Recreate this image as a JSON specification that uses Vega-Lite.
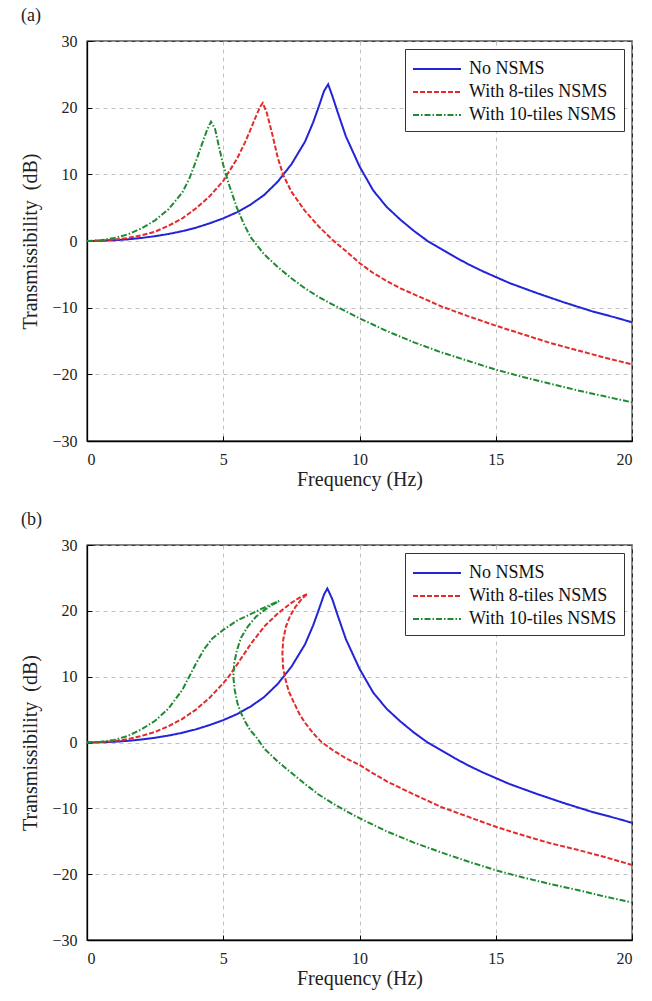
{
  "$schema": "https://vega.github.io/schema/vega-lite/v6.json",
  "background": "white",
  "padding": {"left": 20, "top": 6, "right": 5, "bottom": 4},
  "spacing": 20,
  "config": {
    "font": "Liberation Serif",
    "view": {"stroke": "black", "strokeWidth": 1.3},
    "axis": {
      "labelFont": "Liberation Serif", "titleFont": "Liberation Serif",
      "labelFontSize": 16, "titleFontSize": 20, "titleFontWeight": "normal",
      "labelColor": "#222222", "titleColor": "#222222",
      "domainColor": "black", "domainWidth": 1.3, "tickColor": "black", "tickSize": -5, "labelPadding": 15,
      "gridColor": "#b0b0b0", "gridDash": [4, 4], "gridWidth": 0.8
    },
    "legend": {
      "orient": "top-right", "offset": 8, "strokeColor": "#333333", "fillColor": "white",
      "padding": 7, "labelFont": "Liberation Serif", "labelFontSize": 18, "labelColor": "#111111",
      "symbolType": "M-2,0H2", "symbolStrokeWidth": 2, "symbolSize": 576, "symbolOffset": 12, "rowPadding": 1, "labelOffset": 19
    },
    "title": {"font": "Liberation Serif", "fontSize": 18, "fontWeight": "normal", "anchor": "start", "frame": "bounds", "offset": 8, "color": "#222222"}
  },
  "datasets": {
    "a": [
      {"s":"No NSMS","i":0,"f":0,"db":0},{"s":"No NSMS","i":1,"f":0.5,"db":0.03},{"s":"No NSMS","i":2,"f":1,"db":0.11},{"s":"No NSMS","i":3,"f":1.5,"db":0.25},{"s":"No NSMS","i":4,"f":2,"db":0.46},{"s":"No NSMS","i":5,"f":2.5,"db":0.72},{"s":"No NSMS","i":6,"f":3,"db":1.06},{"s":"No NSMS","i":7,"f":3.5,"db":1.48},{"s":"No NSMS","i":8,"f":4,"db":2.0},{"s":"No NSMS","i":9,"f":4.5,"db":2.65},{"s":"No NSMS","i":10,"f":5,"db":3.4},{"s":"No NSMS","i":11,"f":5.5,"db":4.3},{"s":"No NSMS","i":12,"f":6,"db":5.45},{"s":"No NSMS","i":13,"f":6.5,"db":6.9},{"s":"No NSMS","i":14,"f":7,"db":8.9},{"s":"No NSMS","i":15,"f":7.5,"db":11.5},{"s":"No NSMS","i":16,"f":8,"db":14.9},{"s":"No NSMS","i":17,"f":8.3,"db":17.8},{"s":"No NSMS","i":18,"f":8.5,"db":20.1},{"s":"No NSMS","i":19,"f":8.7,"db":22.5},{"s":"No NSMS","i":20,"f":8.85,"db":23.5},{"s":"No NSMS","i":21,"f":9,"db":21.8},{"s":"No NSMS","i":22,"f":9.2,"db":19.3},{"s":"No NSMS","i":23,"f":9.5,"db":15.7},{"s":"No NSMS","i":24,"f":10,"db":11.2},{"s":"No NSMS","i":25,"f":10.5,"db":7.6},{"s":"No NSMS","i":26,"f":11,"db":5.1},{"s":"No NSMS","i":27,"f":11.5,"db":3.2},{"s":"No NSMS","i":28,"f":12,"db":1.5},{"s":"No NSMS","i":29,"f":12.5,"db":0.0},{"s":"No NSMS","i":30,"f":13,"db":-1.2},{"s":"No NSMS","i":31,"f":13.5,"db":-2.4},{"s":"No NSMS","i":32,"f":14,"db":-3.5},{"s":"No NSMS","i":33,"f":14.5,"db":-4.5},{"s":"No NSMS","i":34,"f":15,"db":-5.4},{"s":"No NSMS","i":35,"f":15.5,"db":-6.3},{"s":"No NSMS","i":36,"f":16,"db":-7.05},{"s":"No NSMS","i":37,"f":16.5,"db":-7.8},{"s":"No NSMS","i":38,"f":17,"db":-8.5},{"s":"No NSMS","i":39,"f":17.5,"db":-9.2},{"s":"No NSMS","i":40,"f":18,"db":-9.85},{"s":"No NSMS","i":41,"f":18.5,"db":-10.5},{"s":"No NSMS","i":42,"f":19,"db":-11.05},{"s":"No NSMS","i":43,"f":19.5,"db":-11.6},{"s":"No NSMS","i":44,"f":20,"db":-12.2},
      {"s":"With 8-tiles NSMS","i":0,"f":0,"db":0},{"s":"With 8-tiles NSMS","i":1,"f":0.5,"db":0.05},{"s":"With 8-tiles NSMS","i":2,"f":1,"db":0.2},{"s":"With 8-tiles NSMS","i":3,"f":1.5,"db":0.45},{"s":"With 8-tiles NSMS","i":4,"f":2,"db":0.85},{"s":"With 8-tiles NSMS","i":5,"f":2.5,"db":1.4},{"s":"With 8-tiles NSMS","i":6,"f":3,"db":2.3},{"s":"With 8-tiles NSMS","i":7,"f":3.5,"db":3.4},{"s":"With 8-tiles NSMS","i":8,"f":4,"db":4.9},{"s":"With 8-tiles NSMS","i":9,"f":4.5,"db":6.7},{"s":"With 8-tiles NSMS","i":10,"f":5,"db":9.0},{"s":"With 8-tiles NSMS","i":11,"f":5.5,"db":12.3},{"s":"With 8-tiles NSMS","i":12,"f":5.8,"db":14.8},{"s":"With 8-tiles NSMS","i":13,"f":6.0,"db":16.7},{"s":"With 8-tiles NSMS","i":14,"f":6.2,"db":18.7},{"s":"With 8-tiles NSMS","i":15,"f":6.35,"db":20.1},{"s":"With 8-tiles NSMS","i":16,"f":6.45,"db":20.7},{"s":"With 8-tiles NSMS","i":17,"f":6.6,"db":19.2},{"s":"With 8-tiles NSMS","i":18,"f":6.8,"db":16.0},{"s":"With 8-tiles NSMS","i":19,"f":7.0,"db":12.5},{"s":"With 8-tiles NSMS","i":20,"f":7.2,"db":9.9},{"s":"With 8-tiles NSMS","i":21,"f":7.5,"db":7.4},{"s":"With 8-tiles NSMS","i":22,"f":8,"db":4.5},{"s":"With 8-tiles NSMS","i":23,"f":8.5,"db":2.2},{"s":"With 8-tiles NSMS","i":24,"f":9,"db":0.2},{"s":"With 8-tiles NSMS","i":25,"f":9.5,"db":-1.5},{"s":"With 8-tiles NSMS","i":26,"f":10,"db":-3.3},{"s":"With 8-tiles NSMS","i":27,"f":10.5,"db":-4.8},{"s":"With 8-tiles NSMS","i":28,"f":11,"db":-6.0},{"s":"With 8-tiles NSMS","i":29,"f":11.5,"db":-7.1},{"s":"With 8-tiles NSMS","i":30,"f":12,"db":-8.0},{"s":"With 8-tiles NSMS","i":31,"f":13,"db":-9.8},{"s":"With 8-tiles NSMS","i":32,"f":14,"db":-11.3},{"s":"With 8-tiles NSMS","i":33,"f":15,"db":-12.7},{"s":"With 8-tiles NSMS","i":34,"f":16,"db":-14.0},{"s":"With 8-tiles NSMS","i":35,"f":17,"db":-15.3},{"s":"With 8-tiles NSMS","i":36,"f":18,"db":-16.4},{"s":"With 8-tiles NSMS","i":37,"f":19,"db":-17.5},{"s":"With 8-tiles NSMS","i":38,"f":20,"db":-18.5},
      {"s":"With 10-tiles NSMS","i":0,"f":0,"db":0},{"s":"With 10-tiles NSMS","i":1,"f":0.5,"db":0.1},{"s":"With 10-tiles NSMS","i":2,"f":1,"db":0.45},{"s":"With 10-tiles NSMS","i":3,"f":1.5,"db":1.0},{"s":"With 10-tiles NSMS","i":4,"f":2,"db":1.9},{"s":"With 10-tiles NSMS","i":5,"f":2.5,"db":3.1},{"s":"With 10-tiles NSMS","i":6,"f":3,"db":4.8},{"s":"With 10-tiles NSMS","i":7,"f":3.5,"db":7.3},{"s":"With 10-tiles NSMS","i":8,"f":3.75,"db":9.3},{"s":"With 10-tiles NSMS","i":9,"f":4.0,"db":12.0},{"s":"With 10-tiles NSMS","i":10,"f":4.2,"db":14.3},{"s":"With 10-tiles NSMS","i":11,"f":4.4,"db":16.6},{"s":"With 10-tiles NSMS","i":12,"f":4.55,"db":17.9},{"s":"With 10-tiles NSMS","i":13,"f":4.7,"db":16.8},{"s":"With 10-tiles NSMS","i":14,"f":4.85,"db":14.0},{"s":"With 10-tiles NSMS","i":15,"f":5.0,"db":11.4},{"s":"With 10-tiles NSMS","i":16,"f":5.2,"db":8.6},{"s":"With 10-tiles NSMS","i":17,"f":5.5,"db":5.0},{"s":"With 10-tiles NSMS","i":18,"f":5.75,"db":2.6},{"s":"With 10-tiles NSMS","i":19,"f":6,"db":0.6},{"s":"With 10-tiles NSMS","i":20,"f":6.5,"db":-2.0},{"s":"With 10-tiles NSMS","i":21,"f":7,"db":-3.9},{"s":"With 10-tiles NSMS","i":22,"f":7.5,"db":-5.6},{"s":"With 10-tiles NSMS","i":23,"f":8,"db":-7.1},{"s":"With 10-tiles NSMS","i":24,"f":8.5,"db":-8.4},{"s":"With 10-tiles NSMS","i":25,"f":9,"db":-9.5},{"s":"With 10-tiles NSMS","i":26,"f":10,"db":-11.6},{"s":"With 10-tiles NSMS","i":27,"f":11,"db":-13.5},{"s":"With 10-tiles NSMS","i":28,"f":12,"db":-15.2},{"s":"With 10-tiles NSMS","i":29,"f":13,"db":-16.7},{"s":"With 10-tiles NSMS","i":30,"f":14,"db":-18.0},{"s":"With 10-tiles NSMS","i":31,"f":15,"db":-19.3},{"s":"With 10-tiles NSMS","i":32,"f":16,"db":-20.4},{"s":"With 10-tiles NSMS","i":33,"f":17,"db":-21.4},{"s":"With 10-tiles NSMS","i":34,"f":18,"db":-22.4},{"s":"With 10-tiles NSMS","i":35,"f":19,"db":-23.3},{"s":"With 10-tiles NSMS","i":36,"f":20,"db":-24.2}
    ],
    "b": [
      {"s":"No NSMS","i":0,"f":0,"db":0},{"s":"No NSMS","i":1,"f":0.5,"db":0.03},{"s":"No NSMS","i":2,"f":1,"db":0.11},{"s":"No NSMS","i":3,"f":1.5,"db":0.25},{"s":"No NSMS","i":4,"f":2,"db":0.46},{"s":"No NSMS","i":5,"f":2.5,"db":0.72},{"s":"No NSMS","i":6,"f":3,"db":1.06},{"s":"No NSMS","i":7,"f":3.5,"db":1.48},{"s":"No NSMS","i":8,"f":4,"db":2.0},{"s":"No NSMS","i":9,"f":4.5,"db":2.65},{"s":"No NSMS","i":10,"f":5,"db":3.4},{"s":"No NSMS","i":11,"f":5.5,"db":4.3},{"s":"No NSMS","i":12,"f":6,"db":5.45},{"s":"No NSMS","i":13,"f":6.5,"db":6.9},{"s":"No NSMS","i":14,"f":7,"db":8.9},{"s":"No NSMS","i":15,"f":7.5,"db":11.5},{"s":"No NSMS","i":16,"f":8,"db":14.9},{"s":"No NSMS","i":17,"f":8.3,"db":17.8},{"s":"No NSMS","i":18,"f":8.5,"db":20.1},{"s":"No NSMS","i":19,"f":8.7,"db":22.5},{"s":"No NSMS","i":20,"f":8.82,"db":23.4},{"s":"No NSMS","i":21,"f":9,"db":21.8},{"s":"No NSMS","i":22,"f":9.2,"db":19.3},{"s":"No NSMS","i":23,"f":9.5,"db":15.7},{"s":"No NSMS","i":24,"f":10,"db":11.2},{"s":"No NSMS","i":25,"f":10.5,"db":7.6},{"s":"No NSMS","i":26,"f":11,"db":5.1},{"s":"No NSMS","i":27,"f":11.5,"db":3.2},{"s":"No NSMS","i":28,"f":12,"db":1.5},{"s":"No NSMS","i":29,"f":12.5,"db":0.0},{"s":"No NSMS","i":30,"f":13,"db":-1.2},{"s":"No NSMS","i":31,"f":13.5,"db":-2.4},{"s":"No NSMS","i":32,"f":14,"db":-3.5},{"s":"No NSMS","i":33,"f":14.5,"db":-4.5},{"s":"No NSMS","i":34,"f":15,"db":-5.4},{"s":"No NSMS","i":35,"f":15.5,"db":-6.3},{"s":"No NSMS","i":36,"f":16,"db":-7.05},{"s":"No NSMS","i":37,"f":16.5,"db":-7.8},{"s":"No NSMS","i":38,"f":17,"db":-8.5},{"s":"No NSMS","i":39,"f":17.5,"db":-9.2},{"s":"No NSMS","i":40,"f":18,"db":-9.85},{"s":"No NSMS","i":41,"f":18.5,"db":-10.5},{"s":"No NSMS","i":42,"f":19,"db":-11.05},{"s":"No NSMS","i":43,"f":19.5,"db":-11.6},{"s":"No NSMS","i":44,"f":20,"db":-12.2},
      {"s":"With 8-tiles NSMS","i":0,"f":0,"db":0},{"s":"With 8-tiles NSMS","i":1,"f":0.5,"db":0.05},{"s":"With 8-tiles NSMS","i":2,"f":1,"db":0.2},{"s":"With 8-tiles NSMS","i":3,"f":1.5,"db":0.5},{"s":"With 8-tiles NSMS","i":4,"f":2,"db":1.0},{"s":"With 8-tiles NSMS","i":5,"f":2.5,"db":1.6},{"s":"With 8-tiles NSMS","i":6,"f":3,"db":2.5},{"s":"With 8-tiles NSMS","i":7,"f":3.5,"db":3.6},{"s":"With 8-tiles NSMS","i":8,"f":4,"db":5.0},{"s":"With 8-tiles NSMS","i":9,"f":4.5,"db":6.8},{"s":"With 8-tiles NSMS","i":10,"f":5,"db":9.0},{"s":"With 8-tiles NSMS","i":11,"f":5.2,"db":10.0},{"s":"With 8-tiles NSMS","i":12,"f":5.5,"db":11.8},{"s":"With 8-tiles NSMS","i":13,"f":6,"db":14.9},{"s":"With 8-tiles NSMS","i":14,"f":6.5,"db":17.6},{"s":"With 8-tiles NSMS","i":15,"f":7,"db":19.6},{"s":"With 8-tiles NSMS","i":16,"f":7.5,"db":21.2},{"s":"With 8-tiles NSMS","i":17,"f":7.8,"db":22.0},{"s":"With 8-tiles NSMS","i":18,"f":8.1,"db":22.6},{"s":"With 8-tiles NSMS","i":19,"f":7.9,"db":21.9},{"s":"With 8-tiles NSMS","i":20,"f":7.65,"db":20.6},{"s":"With 8-tiles NSMS","i":21,"f":7.45,"db":19.2},{"s":"With 8-tiles NSMS","i":22,"f":7.3,"db":17.6},{"s":"With 8-tiles NSMS","i":23,"f":7.2,"db":15.6},{"s":"With 8-tiles NSMS","i":24,"f":7.17,"db":13.5},{"s":"With 8-tiles NSMS","i":25,"f":7.2,"db":11.3},{"s":"With 8-tiles NSMS","i":26,"f":7.27,"db":9.8},{"s":"With 8-tiles NSMS","i":27,"f":7.4,"db":7.8},{"s":"With 8-tiles NSMS","i":28,"f":7.6,"db":6.0},{"s":"With 8-tiles NSMS","i":29,"f":7.8,"db":4.3},{"s":"With 8-tiles NSMS","i":30,"f":8.0,"db":3.0},{"s":"With 8-tiles NSMS","i":31,"f":8.3,"db":1.4},{"s":"With 8-tiles NSMS","i":32,"f":8.6,"db":0.1},{"s":"With 8-tiles NSMS","i":33,"f":9,"db":-1.1},{"s":"With 8-tiles NSMS","i":34,"f":9.5,"db":-2.4},{"s":"With 8-tiles NSMS","i":35,"f":10,"db":-3.4},{"s":"With 8-tiles NSMS","i":36,"f":10.5,"db":-4.7},{"s":"With 8-tiles NSMS","i":37,"f":11,"db":-5.9},{"s":"With 8-tiles NSMS","i":38,"f":11.5,"db":-6.9},{"s":"With 8-tiles NSMS","i":39,"f":12,"db":-7.9},{"s":"With 8-tiles NSMS","i":40,"f":13,"db":-9.8},{"s":"With 8-tiles NSMS","i":41,"f":14,"db":-11.3},{"s":"With 8-tiles NSMS","i":42,"f":15,"db":-12.8},{"s":"With 8-tiles NSMS","i":43,"f":16,"db":-14.1},{"s":"With 8-tiles NSMS","i":44,"f":17,"db":-15.3},{"s":"With 8-tiles NSMS","i":45,"f":18,"db":-16.3},{"s":"With 8-tiles NSMS","i":46,"f":19,"db":-17.4},{"s":"With 8-tiles NSMS","i":47,"f":20,"db":-18.6},
      {"s":"With 10-tiles NSMS","i":0,"f":0,"db":0},{"s":"With 10-tiles NSMS","i":1,"f":0.5,"db":0.1},{"s":"With 10-tiles NSMS","i":2,"f":1,"db":0.4},{"s":"With 10-tiles NSMS","i":3,"f":1.5,"db":1.0},{"s":"With 10-tiles NSMS","i":4,"f":2,"db":2.0},{"s":"With 10-tiles NSMS","i":5,"f":2.5,"db":3.3},{"s":"With 10-tiles NSMS","i":6,"f":3,"db":5.2},{"s":"With 10-tiles NSMS","i":7,"f":3.5,"db":8.0},{"s":"With 10-tiles NSMS","i":8,"f":3.75,"db":10.0},{"s":"With 10-tiles NSMS","i":9,"f":4,"db":12.0},{"s":"With 10-tiles NSMS","i":10,"f":4.3,"db":14.2},{"s":"With 10-tiles NSMS","i":11,"f":4.6,"db":15.8},{"s":"With 10-tiles NSMS","i":12,"f":5,"db":17.1},{"s":"With 10-tiles NSMS","i":13,"f":5.5,"db":18.5},{"s":"With 10-tiles NSMS","i":14,"f":6,"db":19.5},{"s":"With 10-tiles NSMS","i":15,"f":6.5,"db":20.5},{"s":"With 10-tiles NSMS","i":16,"f":7.05,"db":21.5},{"s":"With 10-tiles NSMS","i":17,"f":6.8,"db":20.9},{"s":"With 10-tiles NSMS","i":18,"f":6.5,"db":20.1},{"s":"With 10-tiles NSMS","i":19,"f":6.2,"db":19.1},{"s":"With 10-tiles NSMS","i":20,"f":5.9,"db":17.6},{"s":"With 10-tiles NSMS","i":21,"f":5.65,"db":15.9},{"s":"With 10-tiles NSMS","i":22,"f":5.5,"db":14.0},{"s":"With 10-tiles NSMS","i":23,"f":5.4,"db":12.0},{"s":"With 10-tiles NSMS","i":24,"f":5.37,"db":10.0},{"s":"With 10-tiles NSMS","i":25,"f":5.42,"db":8.0},{"s":"With 10-tiles NSMS","i":26,"f":5.52,"db":6.0},{"s":"With 10-tiles NSMS","i":27,"f":5.65,"db":4.5},{"s":"With 10-tiles NSMS","i":28,"f":5.8,"db":3.2},{"s":"With 10-tiles NSMS","i":29,"f":6,"db":1.8},{"s":"With 10-tiles NSMS","i":30,"f":6.2,"db":0.9},{"s":"With 10-tiles NSMS","i":31,"f":6.5,"db":-0.9},{"s":"With 10-tiles NSMS","i":32,"f":7,"db":-2.9},{"s":"With 10-tiles NSMS","i":33,"f":7.5,"db":-4.6},{"s":"With 10-tiles NSMS","i":34,"f":8,"db":-6.3},{"s":"With 10-tiles NSMS","i":35,"f":8.5,"db":-7.9},{"s":"With 10-tiles NSMS","i":36,"f":9,"db":-9.2},{"s":"With 10-tiles NSMS","i":37,"f":9.5,"db":-10.4},{"s":"With 10-tiles NSMS","i":38,"f":10,"db":-11.5},{"s":"With 10-tiles NSMS","i":39,"f":11,"db":-13.5},{"s":"With 10-tiles NSMS","i":40,"f":12,"db":-15.2},{"s":"With 10-tiles NSMS","i":41,"f":13,"db":-16.7},{"s":"With 10-tiles NSMS","i":42,"f":14,"db":-18.1},{"s":"With 10-tiles NSMS","i":43,"f":15,"db":-19.4},{"s":"With 10-tiles NSMS","i":44,"f":16,"db":-20.5},{"s":"With 10-tiles NSMS","i":45,"f":17,"db":-21.5},{"s":"With 10-tiles NSMS","i":46,"f":18,"db":-22.4},{"s":"With 10-tiles NSMS","i":47,"f":19,"db":-23.4},{"s":"With 10-tiles NSMS","i":48,"f":20,"db":-24.3}
    ]
  },
  "resolve": {"scale": {"color": "independent", "strokeDash": "independent"}},
  "vconcat": [
    {
      "title": {"text": "(a)"},
      "width": 545, "height": 400,
      "data": {"name": "a"},
      "mark": {"type": "line", "strokeWidth": 2},
      "encoding": {
        "x": {"field": "f", "type": "quantitative", "scale": {"domain": [0, 20], "nice": false}, "axis": {"values": [0, 5, 10, 15, 20], "title": "Frequency (Hz)", "titlePadding": 2}},
        "y": {"field": "db", "type": "quantitative", "scale": {"domain": [-30, 30], "nice": false}, "axis": {"values": [-30, -20, -10, 0, 10, 20, 30], "title": "Transmissibility\u00a0 (dB)", "titlePadding": 11}},
        "color": {"field": "s", "type": "nominal", "scale": {"domain": ["No NSMS", "With 8-tiles NSMS", "With 10-tiles NSMS"], "range": ["#2323d8", "#e42a2a", "#1f8a30"]}, "legend": {"title": null}},
        "strokeDash": {"field": "s", "type": "nominal", "scale": {"domain": ["No NSMS", "With 8-tiles NSMS", "With 10-tiles NSMS"], "range": [[1, 0], [5, 2], [6, 2, 1.5, 2]]}, "legend": {"title": null}},
        "order": {"field": "i", "type": "quantitative"}
      }
    },
    {
      "title": {"text": "(b)"},
      "width": 545, "height": 395,
      "data": {"name": "b"},
      "mark": {"type": "line", "strokeWidth": 2},
      "encoding": {
        "x": {"field": "f", "type": "quantitative", "scale": {"domain": [0, 20], "nice": false}, "axis": {"values": [0, 5, 10, 15, 20], "title": "Frequency (Hz)", "titlePadding": 2}},
        "y": {"field": "db", "type": "quantitative", "scale": {"domain": [-30, 30], "nice": false}, "axis": {"values": [-30, -20, -10, 0, 10, 20, 30], "title": "Transmissibility\u00a0 (dB)", "titlePadding": 11}},
        "color": {"field": "s", "type": "nominal", "scale": {"domain": ["No NSMS", "With 8-tiles NSMS", "With 10-tiles NSMS"], "range": ["#2323d8", "#e42a2a", "#1f8a30"]}, "legend": {"title": null}},
        "strokeDash": {"field": "s", "type": "nominal", "scale": {"domain": ["No NSMS", "With 8-tiles NSMS", "With 10-tiles NSMS"], "range": [[1, 0], [5, 2], [6, 2, 1.5, 2]]}, "legend": {"title": null}},
        "order": {"field": "i", "type": "quantitative"}
      }
    }
  ]
}
